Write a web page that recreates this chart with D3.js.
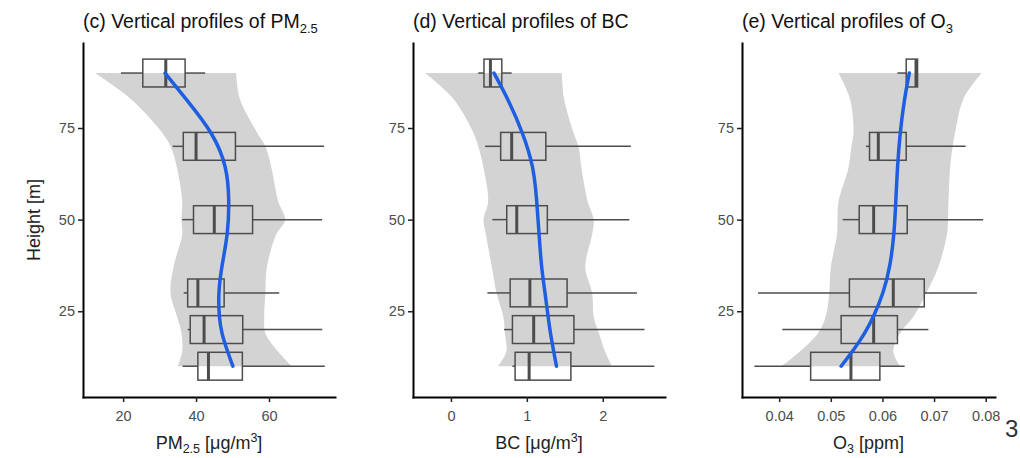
<!DOCTYPE html>
<html>
<head>
<meta charset="utf-8">
<script src="https://cdn.jsdelivr.net/npm/d3@7"></script>
<style>
  body { margin: 0; background: #fff; }
  text { font-family: "Liberation Sans", Arial, sans-serif; }
</style>
</head>
<body>
<script>
// heights of the box rows [m]
const heights = [10, 20, 30, 50, 70, 90];

// box stats per height: [low whisker, q1, median, q3, high whisker]
const pmStats = [
  [36.3, 40.5, 43.4, 52.7, 75.3],
  [37.7, 38.4, 42.2, 52.8, 74.6],
  [36.6, 37.7, 40.5, 47.7, 62.8],
  [36.2, 39.3, 45.0, 55.5, 74.6],
  [33.6, 36.5, 40.0, 50.8, 75.1],
  [19.4, 25.4, 31.7, 37.0, 42.5]
];
const bcStats = [
  [0.81, 0.845, 1.03, 1.58, 2.68],
  [0.70, 0.81, 1.09, 1.62, 2.55],
  [0.48, 0.78, 1.04, 1.53, 2.45],
  [0.545, 0.735, 0.867, 1.27, 2.35],
  [0.45, 0.655, 0.80, 1.25, 2.37],
  [0.36, 0.435, 0.52, 0.67, 0.80]
];
const o3Stats = [
  [0.0352, 0.0461, 0.0539, 0.0595, 0.0643],
  [0.0406, 0.0520, 0.0583, 0.0629, 0.0689],
  [0.0359, 0.0536, 0.0621, 0.0681, 0.0783],
  [0.0523, 0.0555, 0.0583, 0.0648, 0.0795],
  [0.0568, 0.0575, 0.0592, 0.0646, 0.0761],
  [0.0629, 0.0646, 0.0665, 0.0668, 0.0668]
];

// grey envelope
const bandHeights = [10, 14, 19, 23.5, 30, 37, 46, 50, 55, 64, 70, 74, 83, 90];
const pmBandLow  = [35, 36.2, 36, 34.8, 33, 33.8, 36.2, 36, 36.2, 34.8, 33, 30.5, 22, 12.3];
const pmBandHigh = [66.2, 62.5, 59, 58.7, 59, 59.4, 62, 64.4, 62.5, 60.7, 59, 56.6, 52, 51];
const bcBandLow  = [0.62, 0.73, 0.71, 0.69, 0.6, 0.54, 0.46, 0.43, 0.49, 0.43, 0.36, 0.29, 0.03, -0.34];
const bcBandHigh = [2.12, 2.03, 1.95, 1.88, 1.86, 1.77, 1.86, 1.88, 1.8, 1.72, 1.68, 1.61, 1.49, 1.46];
const o3BandLow  = [0.0405, 0.0440, 0.0475, 0.0490, 0.0497, 0.0500, 0.0512, 0.0513, 0.0515, 0.0534, 0.0540, 0.0544, 0.0537, 0.0515];
const o3BandHigh = [0.0634, 0.0621, 0.0634, 0.0660, 0.0685, 0.0708, 0.0725, 0.0727, 0.0728, 0.0731, 0.0736, 0.0741, 0.0757, 0.0792];

// smooth fit (blue)
const fitHeights = [10, 14.4, 19, 23.5, 30, 37.2, 46.3, 55.4, 64.4, 73.6, 82.6, 90];
const pmFit = [50.1, 48.5, 47, 46.3, 46.1, 47, 48.8, 49.1, 48.5, 44.7, 37.5, 31.5];
const bcFit = [1.39, 1.35, 1.31, 1.28, 1.24, 1.19, 1.16, 1.13, 1.09, 0.95, 0.76, 0.567];
const o3Fit = [0.052, 0.0544, 0.0566, 0.0583, 0.0602, 0.0615, 0.0623, 0.0626, 0.0629, 0.0634, 0.0642, 0.0652];

// ticks
const yTicks = [25, 50, 75];
const pmTicks = [20, 40, 60];
const bcTicks = [0, 1, 2];
const o3Ticks = [0.04, 0.05, 0.06, 0.07, 0.08];
const o3TickLabels = ["0.04", "0.05", "0.06", "0.07", "0.08"];

const svg = d3.select("body").append("svg")
  .attr("width", 1020)
  .attr("height", 458);

const y = d3.scaleLinear().domain([1.6, 98.2]).range([397, 43]);
const boxHalf = 3.8;

const panels = [
  { left: 83, right: 335, domain: [9, 78.1], stats: pmStats, low: pmBandLow, high: pmBandHigh,
    fit: pmFit, ticks: pmTicks, fmt: d => d,
    title: ["(c) Vertical profiles of PM", "2.5", ""], xlab: "pm" },
  { left: 413, right: 665, domain: [-0.5, 2.82], stats: bcStats, low: bcBandLow, high: bcBandHigh,
    fit: bcFit, ticks: bcTicks, fmt: d => d,
    title: ["(d) Vertical profiles of BC", "", ""], xlab: "bc" },
  { left: 742, right: 995, domain: [0.0328, 0.0818], stats: o3Stats, low: o3BandLow, high: o3BandHigh,
    fit: o3Fit, ticks: o3Ticks, fmt: (d, i) => o3TickLabels[i],
    title: ["(e) Vertical profiles of O", "3", ""], xlab: "o3" }
];

panels.forEach(p => {
  const x = d3.scaleLinear().domain(p.domain).range([p.left, p.right]);
  const g = svg.append("g");

  // envelope
  const band = bandHeights.map((h, i) => ({ h, lo: p.low[i], hi: p.high[i] }));
  g.append("path")
    .datum(band)
    .attr("fill", "#d3d3d3")
    .attr("d", d3.area()
      .y(d => y(d.h))
      .x0(d => x(d.lo))
      .x1(d => x(d.hi))
      .curve(d3.curveCatmullRom));

  // boxplots
  const rows = heights.map((h, i) => ({ h, s: p.stats[i] }));
  const box = g.selectAll(".box").data(rows).enter().append("g")
    .attr("stroke", "#4d4d4d")
    .attr("fill", "none");
  box.append("line")
    .attr("x1", d => x(d.s[0])).attr("x2", d => x(d.s[1]))
    .attr("y1", d => y(d.h)).attr("y2", d => y(d.h))
    .attr("stroke-width", 1.5);
  box.append("line")
    .attr("x1", d => x(d.s[3])).attr("x2", d => x(d.s[4]))
    .attr("y1", d => y(d.h)).attr("y2", d => y(d.h))
    .attr("stroke-width", 1.5);
  box.append("rect")
    .attr("x", d => x(d.s[1]))
    .attr("width", d => x(d.s[3]) - x(d.s[1]))
    .attr("y", d => y(d.h + boxHalf))
    .attr("height", d => y(d.h - boxHalf) - y(d.h + boxHalf))
    .attr("stroke-width", 1.5);
  box.append("line")
    .attr("x1", d => x(d.s[2])).attr("x2", d => x(d.s[2]))
    .attr("y1", d => y(d.h + boxHalf)).attr("y2", d => y(d.h - boxHalf))
    .attr("stroke-width", 3);

  // smooth
  g.append("path")
    .datum(fitHeights.map((h, i) => ({ h, v: p.fit[i] })))
    .attr("fill", "none")
    .attr("stroke", "#1d5fe0")
    .attr("stroke-width", 3.5)
    .attr("stroke-linecap", "round")
    .attr("d", d3.line().y(d => y(d.h)).x(d => x(d.v)).curve(d3.curveBasis));

  // axes
  const ax = g.append("g")
    .attr("transform", "translate(0,397)")
    .call(d3.axisBottom(x).tickValues(p.ticks).tickFormat(p.fmt).tickSize(5).tickSizeOuter(0));
  const ay = g.append("g")
    .attr("transform", `translate(${p.left},0)`)
    .call(d3.axisLeft(y).tickValues(yTicks).tickSize(5).tickSizeOuter(0));
  [ax, ay].forEach(a => {
    a.select(".domain").attr("stroke", "#000").attr("stroke-width", 2).attr("stroke-linecap", "square");
    a.selectAll(".tick line").attr("stroke", "#222").attr("stroke-width", 1.5);
    a.selectAll(".tick text").attr("fill", "#4d4d4d").style("font-size", "14.5px")
      .style("font-family", "'Liberation Sans', Arial, sans-serif");
  });
  ax.selectAll(".tick text").attr("dy", "1.1em");

  // title
  const t = g.append("text")
    .attr("x", p.left).attr("y", 28)
    .attr("fill", "#111")
    .style("font-size", "19.5px");
  t.append("tspan").text(p.title[0]);
  if (p.title[1]) t.append("tspan").attr("dy", 5).style("font-size", "13px").text(p.title[1]);

  // x label
  const xl = g.append("text")
    .attr("x", (p.left + p.right) / 2).attr("y", 449)
    .attr("text-anchor", "middle")
    .attr("fill", "#222")
    .style("font-size", "18px");
  if (p.xlab === "pm") {
    xl.append("tspan").text("PM");
    xl.append("tspan").attr("dy", 4).style("font-size", "12.5px").text("2.5");
    xl.append("tspan").attr("dy", -4).text(" [μg/m");
    xl.append("tspan").attr("dy", -7).style("font-size", "12.5px").text("3");
    xl.append("tspan").attr("dy", 7).text("]");
  } else if (p.xlab === "bc") {
    xl.append("tspan").text("BC [μg/m");
    xl.append("tspan").attr("dy", -7).style("font-size", "12.5px").text("3");
    xl.append("tspan").attr("dy", 7).text("]");
  } else {
    xl.append("tspan").text("O");
    xl.append("tspan").attr("dy", 4).style("font-size", "12.5px").text("3");
    xl.append("tspan").attr("dy", -4).text(" [ppm]");
  }
});

// y title (first panel only)
svg.append("text")
  .attr("transform", "translate(40,220) rotate(-90)")
  .attr("text-anchor", "middle")
  .attr("fill", "#222")
  .style("font-size", "18px")
  .text("Height [m]");

// stray character at the right edge
svg.append("text")
  .attr("x", 1005).attr("y", 437)
  .attr("fill", "#333")
  .style("font-size", "24px")
  .style("font-weight", "300")
  .text("3");
</script>
</body>
</html>
